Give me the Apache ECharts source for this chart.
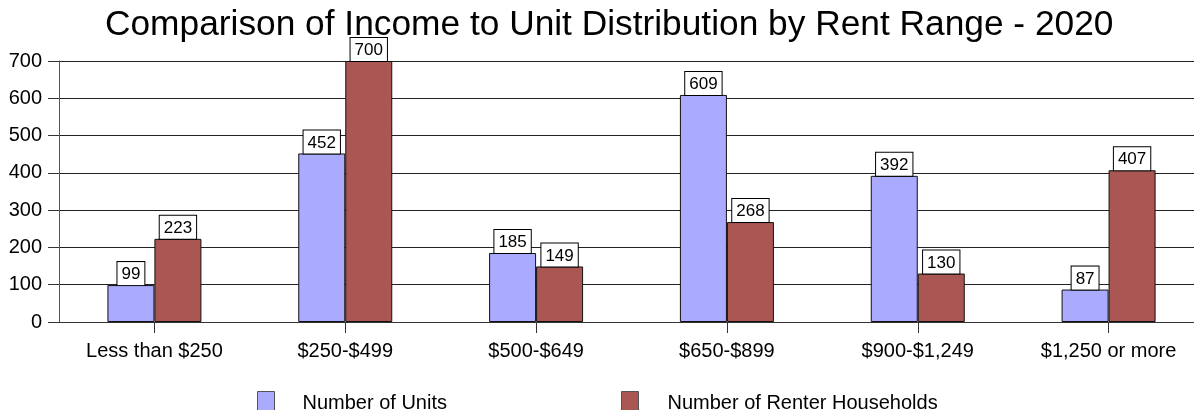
<!DOCTYPE html>
<html>
<head>
<meta charset="utf-8">
<script src="https://cdn.jsdelivr.net/npm/echarts@6/dist/echarts.min.js"></script>
<style>
html,body{margin:0;padding:0;background:#fff;}
#chart{width:1194px;height:410px;}
</style>
</head>
<body>
<div id="chart"></div>
<script>
const titleText = "Comparison of Income to Unit Distribution by Rent Range - 2020";
const categories = ["Less than $250", "$250-$499", "$500-$649", "$650-$899", "$900-$1,249", "$1,250 or more"];
const unitsName = "Number of Units";
const householdsName = "Number of Renter Households";
const units = [99, 452, 185, 609, 392, 87];
const households = [223, 700, 149, 268, 130, 407];

const FONT = "Liberation Sans, Arial, sans-serif";
const chart = echarts.init(document.getElementById('chart'), null, {renderer: 'canvas'});

const labelStyle = {
  show: true,
  position: 'top',
  distance: 0,
  backgroundColor: '#fff',
  borderColor: '#000',
  borderWidth: 1,
  padding: [4, 4, 2, 4],
  fontSize: 17,
  fontFamily: FONT,
  color: '#000'
};

chart.setOption({
  animation: false,
  backgroundColor: '#fff',
  title: {
    text: titleText,
    left: 100,
    top: 3,
    textStyle: {fontSize: 35.3, fontWeight: 'normal', fontFamily: FONT, color: '#000'}
  },
  legend: [
    {
      data: [unitsName],
      left: 252, top: 386,
      itemWidth: 17, itemHeight: 24, itemGap: 0,
      icon: 'rect',
      textStyle: {fontSize: 20, fontFamily: FONT, color: '#000', padding: [0, 0, 0, 23]},
      itemStyle: {borderColor: '#555', borderWidth: 1}
    },
    {
      data: [householdsName],
      left: 616, top: 386,
      itemWidth: 17, itemHeight: 24, itemGap: 0,
      icon: 'rect',
      textStyle: {fontSize: 20, fontFamily: FONT, color: '#000', padding: [0, 0, 0, 24]},
      itemStyle: {borderColor: '#555', borderWidth: 1}
    }
  ],
  grid: {left: 59, width: 1145, top: 61, height: 261, containLabel: false, outerBoundsMode: 'none'},
  xAxis: {
    type: 'category',
    data: categories,
    axisLine: {show: true, lineStyle: {color: '#333', width: 1}},
    axisTick: {show: true, alignWithLabel: true, length: 11, lineStyle: {color: '#333'}},
    axisLabel: {fontSize: 20, fontFamily: FONT, color: '#000', margin: 19}
  },
  yAxis: {
    type: 'value',
    min: 0, max: 700, interval: 100,
    axisLine: {show: true, lineStyle: {color: '#555', width: 1}},
    axisTick: {show: true, length: 11, lineStyle: {color: '#333'}},
    axisLabel: {fontSize: 20, fontFamily: FONT, color: '#000', margin: 17},
    splitLine: {show: true, lineStyle: {color: '#222', width: 1}}
  },
  series: [
    {
      name: unitsName,
      type: 'bar',
      data: units,
      barWidth: 47,
      barGap: '0%',
      itemStyle: {color: '#aaaaff', borderColor: '#111', borderWidth: 1},
      label: labelStyle
    },
    {
      name: householdsName,
      type: 'bar',
      data: households,
      barWidth: 47,
      barGap: '0%',
      itemStyle: {color: '#aa5753', borderColor: '#111', borderWidth: 1},
      label: labelStyle
    }
  ]
});
</script>
</body>
</html>
